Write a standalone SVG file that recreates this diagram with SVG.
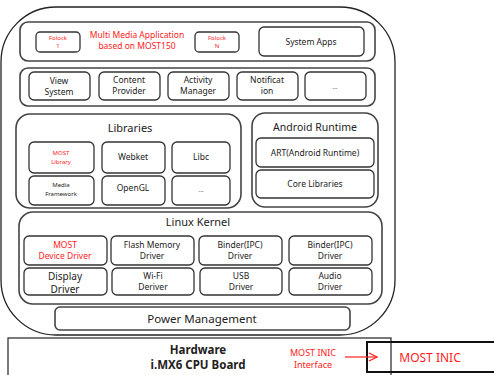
<svg xmlns="http://www.w3.org/2000/svg" width="494" height="375" viewBox="0 0 494 375">
<style>
.b{fill:#fff;stroke:#333;stroke-width:1.3}
.g{fill:#fff;stroke:#444;stroke-width:1.6}
text{font-family:"Noto Sans","Liberation Sans",sans-serif;text-anchor:middle;fill:#222}
.s{font-size:8.5px}
.t{font-size:6px}
.r{fill:#f22}
</style>
<defs>
<marker id="ar" markerWidth="10" markerHeight="10" refX="9" refY="5" orient="auto" markerUnits="userSpaceOnUse">
<path d="M1,1 L9,5 L1,9" fill="none" stroke="#f22" stroke-width="1.2"/>
</marker>
</defs>
<rect width="494" height="375" fill="#fff"/>
<g id="outer"><rect x="1" y="7" width="394" height="328" rx="55" fill="#fff" stroke="#222" stroke-width="1.3"/></g>

<g id="apps">
<rect class="g" x="20" y="22" width="355" height="39" rx="8"/>
<g id="folock1"><rect class="b" x="36" y="32" width="44" height="20" rx="4"/><text class="t r" x="58" y="40">Folock</text><text class="t r" x="58" y="48">1</text></g>
<g id="mma"><text class="s r" x="137" y="38" font-size="9">Multi Media Application</text><text class="s r" x="137" y="49">based on MOST150</text></g>
<g id="folockN"><rect class="b" x="195" y="32" width="44" height="20" rx="4"/><text class="t r" x="217" y="40">Folock</text><text class="t r" x="217" y="48">N</text></g>
<g id="sysapps"><rect class="b" x="259" y="27" width="105" height="29" rx="5"/><text class="s" x="311" y="45">System Apps</text></g>
</g>

<g id="framework">
<rect class="g" x="20" y="68" width="355" height="38" rx="8"/>
<g id="view"><rect class="b" x="29" y="72" width="61" height="28" rx="5"/><text class="s" x="59" y="84">View</text><text class="s" x="59" y="95">System</text></g>
<g id="content"><rect class="b" x="99" y="72" width="61" height="28" rx="5"/><text class="s" x="129" y="83">Content</text><text class="s" x="129" y="94">Provider</text></g>
<g id="activity"><rect class="b" x="168" y="72" width="61" height="28" rx="5"/><text class="s" x="198" y="83">Activity</text><text class="s" x="198" y="94">Manager</text></g>
<g id="notif"><rect class="b" x="237" y="72" width="61" height="28" rx="5"/><text class="s" x="267" y="83">Notificat</text><text class="s" x="267" y="94">ion</text></g>
<g id="fdots"><rect class="b" x="305" y="72" width="61" height="28" rx="5"/><text class="t" x="335" y="89">...</text></g>
</g>

<g id="libraries">
<rect class="g" x="16" y="114" width="225" height="94" rx="14"/>
<text x="130" y="132" font-size="11">Libraries</text>
<g id="mostlib"><rect class="b" x="29" y="142" width="65" height="31" rx="5"/><text class="t r" x="61" y="155" font-size="7">MOST</text><text class="t r" x="61" y="164" font-size="7">Library</text></g>
<g id="webket"><rect class="b" x="102" y="142" width="63" height="31" rx="5"/><text class="s" x="133" y="160">Webket</text></g>
<g id="libc"><rect class="b" x="172" y="142" width="58" height="31" rx="5"/><text class="s" x="201" y="160">Libc</text></g>
<g id="media"><rect class="b" x="29" y="176" width="65" height="29" rx="5"/><text class="t" x="61" y="187" font-size="7">Media</text><text class="t" x="61" y="196" font-size="7">Framework</text></g>
<g id="opengl"><rect class="b" x="102" y="176" width="63" height="29" rx="5"/><text class="s" x="133" y="191">OpenGL</text></g>
<g id="ldots"><rect class="b" x="172" y="176" width="58" height="29" rx="5"/><text class="t" x="201" y="192">...</text></g>
</g>

<g id="runtime">
<rect class="g" x="252" y="113" width="126" height="94" rx="13"/>
<text x="315" y="131" font-size="10.5">Android Runtime</text>
<g id="art"><rect class="b" x="256" y="138" width="118" height="29" rx="5"/><text class="s" x="315" y="156">ART(Android Runtime)</text></g>
<g id="core"><rect class="b" x="256" y="170" width="118" height="28" rx="5"/><text class="s" x="315" y="187">Core Libraries</text></g>
</g>

<g id="kernel">
<rect class="g" x="19" y="212" width="363" height="92" rx="14"/>
<text x="198" y="226" font-size="11">Linux Kernel</text>
<g id="mostdd"><rect class="b" x="24" y="236" width="83" height="29" rx="5"/><text class="s r" x="65" y="248">MOST</text><text class="s r" x="65" y="259">Device Driver</text></g>
<g id="flash"><rect class="b" x="111" y="236" width="83" height="29" rx="5"/><text class="s" x="152" y="248">Flash Memory</text><text class="s" x="152" y="259">Driver</text></g>
<g id="binder1"><rect class="b" x="199" y="236" width="83" height="29" rx="5"/><text class="s" x="240" y="248">Binder(IPC)</text><text class="s" x="240" y="259">Driver</text></g>
<g id="binder2"><rect class="b" x="289" y="236" width="83" height="29" rx="5"/><text class="s" x="330" y="248">Binder(IPC)</text><text class="s" x="330" y="259">Driver</text></g>
<g id="display"><rect class="b" x="24" y="268" width="83" height="27" rx="5"/><text x="65" y="280" font-size="10">Display</text><text x="65" y="292.5" font-size="10">Driver</text></g>
<g id="wifi"><rect class="b" x="112" y="268" width="82" height="27" rx="5"/><text class="s" x="153" y="279">Wi-Fi</text><text class="s" x="153" y="290">Deriver</text></g>
<g id="usb"><rect class="b" x="200" y="268" width="82" height="27" rx="5"/><text class="s" x="241" y="279">USB</text><text class="s" x="241" y="290">Driver</text></g>
<g id="audio"><rect class="b" x="289" y="268" width="83" height="27" rx="5"/><text class="s" x="330" y="279">Audio</text><text class="s" x="330" y="290">Driver</text></g>
</g>

<g id="power"><rect class="g" x="55" y="307" width="295" height="23" rx="5"/><text x="202" y="323" font-size="11.5">Power Management</text></g>

<g id="hardware"><rect x="8" y="338" width="383" height="45" fill="#fff" stroke="#222" stroke-width="1.2"/>
<text x="198" y="354" font-size="11.5" font-weight="bold">Hardware</text>
<text x="198" y="369" font-size="11.5" font-weight="bold">i.MX6 CPU Board</text>
<text class="r" x="313" y="356" font-size="9">MOST INIC</text>
<text class="r" x="313" y="368" font-size="9">Interface</text></g>

<g id="inic"><rect x="367" y="342" width="135" height="30" fill="none" stroke="#111" stroke-width="2"/>
<text class="r" x="430" y="362" font-size="12">MOST INIC</text></g>
<g id="connectors"><line x1="345" y1="357" x2="377" y2="357" stroke="#f22" stroke-width="1.2" marker-end="url(#ar)"/></g>
</svg>
